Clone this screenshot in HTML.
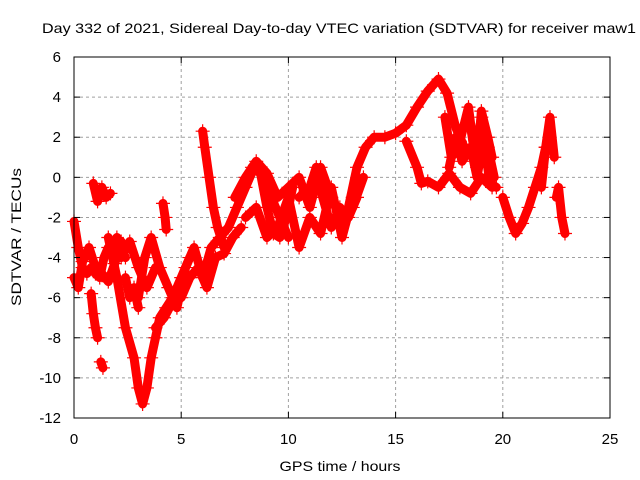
<!DOCTYPE html>
<html><head><meta charset="utf-8"><style>
html,body{margin:0;padding:0;background:#fff}
svg{display:block;font-family:"Liberation Sans",sans-serif}
</style></head><body>
<svg id="chart" width="640" height="480" viewBox="0 0 640 480">
<text x="339" y="33" font-size="14" text-anchor="middle" textLength="594" lengthAdjust="spacingAndGlyphs">Day 332 of 2021, Sidereal Day-to-day VTEC variation (SDTVAR) for receiver maw1</text>
<g id="grid"></g>
<g id="series"></g>
<rect x="74" y="57" width="536" height="361" fill="none" stroke="#000" stroke-width="1"/>
<g id="ticks"></g>
<text x="340" y="471" font-size="14" text-anchor="middle" textLength="121" lengthAdjust="spacingAndGlyphs">GPS time / hours</text>
<text transform="translate(21,237) rotate(-90)" font-size="14" text-anchor="middle" textLength="138" lengthAdjust="spacingAndGlyphs">SDTVAR / TECUs</text>
</svg>
<script>
const xTicks=[0,5,10,15,20,25];
const yTicks=[-12,-10,-8,-6,-4,-2,0,2,4,6];
const t1=[0,0.2,0.4,0.6,0.8,1.0,1.2,1.4,1.6,1.8,2.0,2.2,2.4];
const v1=[-2.2,-3.5,-4.5,-4.8,-4.5,-4.8,-5.0,-4.0,-3.5,-3.8,-3.0,-3.5,-4.0];
const t2=[0,0.2,0.4,0.7,1.0,1.3,1.6,1.9,2.2];
const v2=[-5,-5.5,-4.2,-3.5,-4.5,-4.8,-5.2,-4.3,-3.2];
const t3=[0.9,1.1,1.3,1.5,1.7];
const v3=[-0.3,-1.2,-0.5,-1.0,-0.8];
const t4=[0.8,0.9,1.0,1.1];
const v4=[-5.8,-6.8,-7.5,-8.0];
const t5=[1.6,2.0,2.4,2.8,3.0,3.2,3.4,3.6,3.8,4.0,4.3,4.6,5.0,5.4];
const v5=[-3.0,-5.0,-7.5,-9.0,-10.5,-11.3,-10.5,-9.0,-8.0,-7.0,-6.5,-6.0,-5.0,-4.0];
const t6=[3.0,3.3,3.6,4.0,4.4,4.8,5.2,5.6,6.0,6.4,6.8,7.2,7.6,8.0,8.4,8.8,9.2,9.6,10.0];
const v6=[-6.0,-4.0,-3.0,-4.5,-5.5,-6.5,-4.5,-3.5,-5.0,-3.5,-3.0,-2.5,-1.5,-0.5,0.5,0.3,-1.0,-2.0,-3.0];
const t7=[6.0,6.1,6.3,6.5,6.7,7.0];
const v7=[2.3,1.5,0,-1.5,-2.5,-3.5];
const t8=[7.5,8.0,8.5,9.0,9.5,10.0,10.5,11.0,11.5,12.0,12.5,13.0,13.5];
const v8=[-1.0,0.0,0.8,0.2,-1.0,-0.5,0.0,-1.5,0.5,-1.0,-2.0,-1.5,0.0];
const t9=[8.0,8.5,9.0,9.5,10.0,10.5,11.0,11.5,12.0,12.5,13.0];
const v9=[-2.0,-1.5,-3.0,-2.5,-1.0,-3.5,-2.0,-2.8,-0.5,-3.0,-1.0];
const t10=[12.8,13.2,13.6,14.0,14.5,15.0,15.5,16.0,16.5,17.0,17.4,17.8,18.2];
const v10=[-1.5,0.5,1.5,2.0,2.0,2.2,2.6,3.5,4.3,4.9,4.2,2.5,1.5];
const t11=[15.5,16.0,16.2,16.5,17.0,17.5,18.0,18.5,19.0,19.5];
const v11=[1.8,0.5,-0.3,-0.2,-0.5,0.2,-0.5,-0.8,0,-0.5];
const t12=[17.3,17.6,18.0,18.4,18.7,19.0,19.3,19.6];
const v12=[3.0,1.0,1.8,3.5,1.0,3.0,1.5,0];
const t13=[17.5,17.8,18.1,18.5,18.8,19.1,19.4,19.7];
const v13=[0.5,2.0,0.8,1.5,0.0,2.0,-0.3,-0.5];
const t14=[20.0,20.3,20.6,20.9,21.2,21.5,21.8,22.0];
const v14=[-1,-2.0,-2.8,-2.3,-1.5,-0.5,0.5,1.5];
const t15=[21.8,22.0,22.2,22.4];
const v15=[-0.5,1.5,3.0,1.0];
const t16=[22.5,22.6,22.75,22.9];
const v16=[-1,-0.5,-2,-2.8];
const t17=[3.8,4.2,4.6,5.0,5.4,5.8,6.2,6.6,7.0,7.4,7.8];
const v17=[-7.5,-7.0,-6.2,-6.0,-5.0,-4.5,-5.5,-4.0,-3.8,-3.0,-2.5];
const t18=[8.3,8.7,9.0,9.3,9.6,9.9,10.2];
const v18=[0.5,0.2,-1.5,-2.8,-3.0,-2.0,-0.5];
const t19=[2.2,2.6,3.0,3.4,3.8];
const v19=[-4.0,-3.2,-4.5,-5.5,-4.5];
const t20=[10.5,11.0,11.3,11.6,12.0,12.4,12.8,13.2];
const v20=[-1.0,-0.5,0.5,-1.0,-2.5,-1.5,-2.0,-1.0];
const t21=[18.5,18.8,19.0,19.3,19.5];
const v21=[2.5,0.5,3.3,2.0,1.0];
const t22=[1.25,1.35];
const v22=[-9.2,-9.5];
const t23=[4.15,4.25,4.3];
const v23=[-1.3,-2.0,-2.6];
const t24=[2.4,2.6,2.8,3.0];
const v24=[-5.0,-6.0,-5.5,-6.5];

const tracks=[[t1,v1],[t2,v2],[t3,v3],[t4,v4],[t5,v5],[t6,v6],[t7,v7],[t8,v8],[t9,v9],[t10,v10],[t11,v11],[t12,v12],[t13,v13],[t14,v14],[t15,v15],[t16,v16],[t17,v17],[t18,v18],[t19,v19],[t20,v20],[t21,v21],[t22,v22],[t23,v23],[t24,v24]];
const X0=74,X1=610,Y0=418,Y1=57;
function xs(t){return X0+(t-0)/(25-0)*(X1-X0);}
function ys(v){return Y0-(v-(-12))/(6-(-12))*(Y0-Y1);}
const NS="http://www.w3.org/2000/svg";
const grid=document.getElementById('grid'),ticks=document.getElementById('ticks'),ser=document.getElementById('series');
function mk(tag,attrs,parent){const e=document.createElementNS(NS,tag);for(const k in attrs)e.setAttribute(k,attrs[k]);parent.appendChild(e);return e;}
xTicks.forEach(t=>{
  const x=xs(t);
  if(t>0&&t<25){const g=mk('line',{x1:x,x2:x,y1:Y1,y2:Y0,stroke:'#a0a0a0','stroke-dasharray':'3,3'},grid);
  
  }
  const l=mk('text',{x:x,y:Y0+26,'font-size':'15','text-anchor':'middle'},ticks);
  l.textContent=t;
  
  
  mk('line',{x1:x,x2:x,y1:Y0,y2:Y0-6,stroke:'#000'},ticks);
  mk('line',{x1:x,x2:x,y1:Y1,y2:Y1+6,stroke:'#000'},ticks);
});
yTicks.forEach(v=>{
  const y=ys(v);
  if(v>-12&&v<6){const g=mk('line',{x1:X0,x2:X1,y1:y,y2:y,stroke:'#a0a0a0','stroke-dasharray':'3,3'},grid);
  
  }
  const l=mk('text',{x:X0-13,y:y+5,'font-size':'15','text-anchor':'end'},ticks);
  l.textContent=v;
  
  
  mk('line',{x1:X0,x2:X0+6,y1:y,y2:y,stroke:'#000'},ticks);
  mk('line',{x1:X1,x2:X1-6,y1:y,y2:y,stroke:'#000'},ticks);
});
tracks.forEach(([ts,vs],i)=>{
  const pts=ts.map((t,j)=>xs(t)+','+ys(vs[j])).join(' ');
  const pl=mk('polyline',{points:pts,fill:'none',stroke:'#ff0000','stroke-width':'9','stroke-linejoin':'round','stroke-linecap':'round'},ser);
  
  
  ts.forEach((t,j)=>{
    const x=xs(t),y=ys(vs[j]);
    const p=mk('path',{d:`M${x-7},${y}h14M${x},${y-7}v14`,stroke:'#ff0000','stroke-width':'1.2'},ser);
    
    
  });
});
</script>
</body></html>
